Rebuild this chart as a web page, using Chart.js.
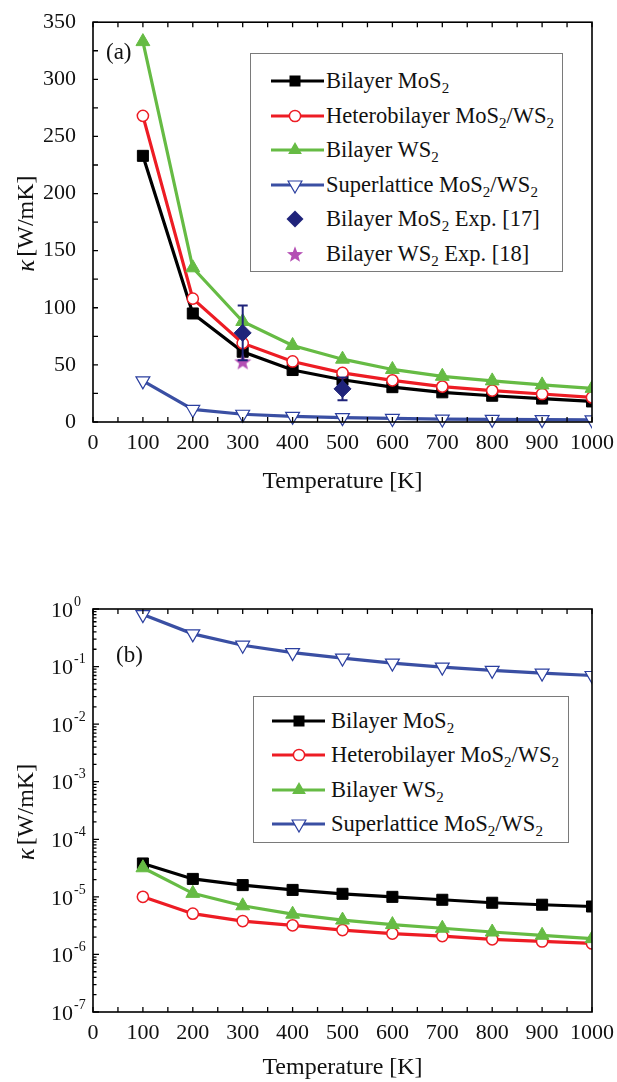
<!DOCTYPE html>
<html><head><meta charset="utf-8">
<script src="https://cdn.jsdelivr.net/npm/chart.js@4.4.0/dist/chart.umd.min.js"></script>
<style>
html,body{margin:0;padding:0;background:#fff;}
#wrap{position:relative;width:617px;height:1082px;overflow:hidden;font-family:"Liberation Serif","Times New Roman",serif;color:#111;}
canvas{position:absolute;left:0;}
.legend{position:absolute;border:1px solid #7a7a7a;background:#fff;box-sizing:border-box;z-index:2;}
.row{position:absolute;left:0;height:30px;width:100%;}
.row svg{position:absolute;top:0;}
.row span{position:absolute;top:0;line-height:30px;font-size:22.5px;white-space:nowrap;}
sub{font-size:15px;vertical-align:-5px;line-height:0;}
.panel{position:absolute;font-size:23px;line-height:26px;z-index:2;}
</style></head>
<body><div id="wrap">
<canvas id="cA" width="617" height="541" style="top:0"></canvas>
<canvas id="cB" width="617" height="540" style="top:542px"></canvas>
<div class="panel" style="left:106px;top:39px">(a)</div>
<div class="panel" style="left:116px;top:642px">(b)</div>
<div class="legend" id="legA" style="left:250px;top:53px;width:313px;height:219px"></div>
<div class="legend" id="legB" style="left:253px;top:696px;width:316px;height:147px"></div>
</div>
<script>
// ---------- data ----------
const temps = [100, 200, 300, 400, 500, 600, 700, 800, 900, 1000];
// panel (a), linear kappa [W/mK]
const mos2A   = [233, 95, 61.5, 45.5, 37, 30.5, 26, 23, 20.5, 18];
const heteroA = [268, 108, 69, 53, 43, 36.5, 31, 27.5, 24.5, 21.5];
const ws2A    = [333, 135, 88, 67, 55, 46, 40, 36, 32.5, 29.5];
const superA  = [36, 11, 6.8, 5, 3.8, 3.1, 2.6, 2.3, 2.1, 1.9];
const expMoS2T = [300, 500];
const expMoS2K = [78, 29];
const expMoS2Err = [24, 10];
const expWS2T = [300];
const expWS2K = [53];
// panel (b), log kappa
const mos2B   = [3.8e-5, 2.05e-5, 1.6e-5, 1.32e-5, 1.13e-5, 1.0e-5, 8.9e-6, 7.9e-6, 7.3e-6, 6.8e-6];
const heteroB = [1.0e-5, 5.1e-6, 3.8e-6, 3.2e-6, 2.65e-6, 2.3e-6, 2.08e-6, 1.83e-6, 1.68e-6, 1.55e-6];
const ws2B    = [3.2e-5, 1.15e-5, 7.0e-6, 5.0e-6, 3.95e-6, 3.3e-6, 2.85e-6, 2.45e-6, 2.15e-6, 1.88e-6];
const superB  = [0.80, 0.37, 0.235, 0.175, 0.14, 0.115, 0.098, 0.086, 0.077, 0.070];
// ticks
const xTickValues = [0, 100, 200, 300, 400, 500, 600, 700, 800, 900, 1000];
const yTickValuesA = [0, 50, 100, 150, 200, 250, 300, 350];
const logTickExps = [0, -1, -2, -3, -4, -5, -6, -7];
// names
const namesA = ['Bilayer MoS<sub>2</sub>', 'Heterobilayer MoS<sub>2</sub>/WS<sub>2</sub>', 'Bilayer WS<sub>2</sub>',
  'Superlattice MoS<sub>2</sub>/WS<sub>2</sub>', 'Bilayer MoS<sub>2</sub> Exp. [17]', 'Bilayer WS<sub>2</sub> Exp. [18]'];
const namesB = namesA.slice(0, 4);
const xTitle = 'Temperature [K]';

// ---------- styles ----------
const F = '"Liberation Serif", "Times New Roman", serif';
const C = {black:'#000000', red:'#ed1c24', green:'#66bb44', blue:'#3a4fa3', blueM:'#2b3f9f', navy:'#1f237a', mag:'#b44fb4'};

function pts(xs, ys){ return xs.map((x,i)=>({x:x, y:ys[i]})); }
function makeStar(size, color){
  const c = document.createElement('canvas'); c.width=size; c.height=size;
  const g = c.getContext('2d'); g.fillStyle=color; g.beginPath();
  const cx=size/2, cy=size/2+0.8, R=size/2, r=R*0.42;
  for(let i=0;i<10;i++){ const a=-Math.PI/2+i*Math.PI/5, rr=i%2?r:R; g.lineTo(cx+rr*Math.cos(a), cy+rr*Math.sin(a)); }
  g.closePath(); g.fill(); return c;
}
const star = makeStar(18, C.mag);

function lineDs(label, data, color, style, extra){
  return Object.assign({label:label, data:data, borderColor:color, borderWidth:3.2, tension:0,
    pointStyle:style, pointBackgroundColor:color, pointBorderColor:color, pointBorderWidth:1,
    pointRadius:7.5, clip:{left:20,top:20,right:0,bottom:20}}, extra||{});
}
function seriesSets(m, h, w, s){
  return [
    lineDs('Bilayer MoS2', pts(temps,m), C.black, 'rect', {order:4, pointRadius:7.8}),
    lineDs('Heterobilayer', pts(temps,h), C.red, 'circle', {order:3, pointRadius:5.6, pointBackgroundColor:'#fff', pointBorderWidth:1.5}),
    lineDs('Bilayer WS2', pts(temps,w), C.green, 'triangle', {order:2, pointRadius:8}),
    lineDs('Superlattice', pts(temps,s), C.blue, 'triangle', {order:5, pointRadius:8, pointRotation:180, pointBackgroundColor:'#fff', pointBorderColor:C.blueM, pointBorderWidth:1.2}),
  ];
}

// ---------- plugins ----------
const framePlugin = {
  id:'frame',
  afterDraw(chart, args, o){
    const {ctx, chartArea:a, scales} = chart;
    ctx.save(); ctx.strokeStyle='#000';
    ctx.lineWidth=1.3; ctx.beginPath();
    for(let v=0; v<=1000; v+=50){ const p=scales.x.getPixelForValue(v);
      ctx.moveTo(p,a.bottom); ctx.lineTo(p,a.bottom-5); ctx.moveTo(p,a.top); ctx.lineTo(p,a.top+5); }
    if(o.log){
      for(let d=-7; d<=0; d++){ const p=scales.y.getPixelForValue(Math.pow(10,d)); ctx.moveTo(a.left,p); ctx.lineTo(a.left+6,p);
        if(d<0) for(let k=2;k<=9;k++){ const q=scales.y.getPixelForValue(k*Math.pow(10,d)); ctx.moveTo(a.left,q); ctx.lineTo(a.left+3.5,q);} }
    } else {
      for(let v=0; v<=350; v+=25){ const p=scales.y.getPixelForValue(v); ctx.moveTo(a.left,p); ctx.lineTo(a.left+5,p); }
    }
    ctx.stroke();
    ctx.lineWidth=1.6; ctx.strokeRect(a.left, a.top, a.right-a.left, a.bottom-a.top);
    // y title: italic kappa + [W/mK]
    const cy=(a.top+a.bottom)/2;
    ctx.translate(o.titleX, cy); ctx.rotate(-Math.PI/2);
    ctx.fillStyle='#111'; ctx.textBaseline='middle';
    const f1='italic 25px '+F, f2='24px '+F, t2=' [W/mK]';
    ctx.font=f1; const w1=ctx.measureText('κ').width; ctx.font=f2; const w2=ctx.measureText(t2).width;
    const x0=-(w1+w2)/2;
    ctx.font=f1; ctx.textAlign='left'; ctx.fillText('κ', x0, 0);
    ctx.font=f2; ctx.fillText(t2, x0+w1-3, 0);
    ctx.restore();
  }
};
const errPlugin = {
  id:'errbars',
  afterDatasetsDraw(chart){
    const {ctx, scales} = chart;
    chart.data.datasets.forEach(ds=>{
      if(!ds.errors) return;
      ctx.save(); ctx.strokeStyle=ds.pointBackgroundColor; ctx.lineWidth=2; ctx.beginPath();
      ds.data.forEach((p,i)=>{
        const x=scales.x.getPixelForValue(p.x), y1=scales.y.getPixelForValue(p.y-ds.errors[i]), y2=scales.y.getPixelForValue(p.y+ds.errors[i]);
        ctx.moveTo(x,y1); ctx.lineTo(x,y2); ctx.moveTo(x-5,y1); ctx.lineTo(x+5,y1); ctx.moveTo(x-5,y2); ctx.lineTo(x+5,y2);
      });
      ctx.stroke(); ctx.restore();
    });
  }
};
const logLabelPlugin = {
  id:'loglabels',
  afterDraw(chart){
    const {ctx, scales} = chart;
    ctx.save(); ctx.fillStyle='#111'; ctx.textBaseline='middle'; ctx.textAlign='left';
    logTickExps.forEach(e=>{
      const p=scales.y.getPixelForValue(Math.pow(10,e));
      ctx.font='22px '+F; ctx.fillText('10', 51, p+2);
      const w=ctx.measureText('10').width;
      ctx.font='14px '+F; ctx.fillText(e===0?'0':'-'+(-e), 51+w+1, p-7);
    });
    ctx.restore();
  }
};

function xScale(h){
  return {type:'linear', min:0, max:1000, grid:{display:false}, border:{display:false},
    afterBuildTicks:s=>{s.ticks=xTickValues.map(v=>({value:v}));},
    ticks:{font:{family:F,size:22}, color:'#111', padding:0, maxRotation:0, autoSkip:false, callback:v=>String(v)},
    title:{display:true, text:xTitle, font:{family:F,size:24}, color:'#111', padding:0},
    afterFit:s=>{s.height=h;}};
}

// ---------- chart (a) ----------
const dsA = seriesSets(mos2A, heteroA, ws2A, superA);
dsA.push({label:'Exp MoS2', data:pts(expMoS2T,expMoS2K), errors:expMoS2Err, showLine:false, order:0,
  pointStyle:'rectRot', pointRadius:8.5, pointBackgroundColor:C.navy, pointBorderColor:C.navy, borderColor:C.navy, clip:false});
dsA.push({label:'Exp WS2', data:pts(expWS2T,expWS2K), showLine:false, order:1,
  pointStyle:star, pointRadius:8, pointBackgroundColor:C.mag, borderColor:C.mag, clip:false});

const chartA = new Chart(document.getElementById('cA'), {
  type:'line',
  data:{datasets:dsA},
  options:{responsive:false, animation:false, devicePixelRatio:1,
    layout:{padding:{left:0, right:25, top:22, bottom:45}},
    plugins:{legend:{display:false}, tooltip:{enabled:false}, frame:{log:false, titleX:27}},
    scales:{
      x:xScale(74),
      y:{type:'linear', min:0, max:350, grid:{display:false}, border:{display:false},
        afterBuildTicks:s=>{s.ticks=yTickValuesA.map(v=>({value:v}));},
        ticks:{font:{family:F,size:22}, color:'#111', padding:9},
        afterFit:s=>{s.width=93;}}
    }},
  plugins:[framePlugin, errPlugin]
});

// ---------- chart (b) ----------
const chartB = new Chart(document.getElementById('cB'), {
  type:'line',
  data:{datasets:seriesSets(mos2B, heteroB, ws2B, superB)},
  options:{responsive:false, animation:false, devicePixelRatio:1,
    layout:{padding:{left:0, right:25, top:67, bottom:0}},
    plugins:{legend:{display:false}, tooltip:{enabled:false}, frame:{log:true, titleX:27}},
    scales:{
      x:xScale(70),
      y:{type:'logarithmic', min:1e-7, max:1, grid:{display:false}, border:{display:false},
        ticks:{display:false}, afterFit:s=>{s.width=93;}}
    }},
  plugins:[framePlugin, logLabelPlugin]
});

// ---------- legends ----------
function markerSvg(kind, cx){
  const y=15;
  switch(kind){
    case 'sq': return `<rect x="${cx-5.5}" y="${y-5.5}" width="11" height="11" fill="${C.black}"/>`;
    case 'ci': return `<circle cx="${cx}" cy="${y}" r="5.6" fill="#fff" stroke="${C.red}" stroke-width="1.5"/>`;
    case 'tu': return `<polygon points="${cx},${y-8} ${cx+6.9},${y+4} ${cx-6.9},${y+4}" fill="${C.green}"/>`;
    case 'td': return `<polygon points="${cx},${y+8} ${cx+6.9},${y-4} ${cx-6.9},${y-4}" fill="#fff" stroke="${C.blueM}" stroke-width="1.2"/>`;
    case 'di': return `<polygon points="${cx},${y-8.5} ${cx+8.5},${y} ${cx},${y+8.5} ${cx-8.5},${y}" fill="${C.navy}"/>`;
    case 'st': { let p=[]; for(let i=0;i<10;i++){const a=-Math.PI/2+i*Math.PI/5, r=i%2?3.6:8.5; p.push((cx+r*Math.cos(a)).toFixed(2)+','+(y+0.8+r*Math.sin(a)).toFixed(2));}
      return `<polygon points="${p.join(' ')}" fill="${C.mag}"/>`; }
  }
}
function buildLegend(id, names, kinds, colors, cfg){
  const el=document.getElementById(id); let html='';
  names.forEach((n,i)=>{
    const top=cfg.first+i*cfg.step-15;
    const line=colors[i]?`<line x1="0" y1="15" x2="${cfg.lineW}" y2="15" stroke="${colors[i]}" stroke-width="3"/>`:'';
    html+=`<div class="row" style="top:${top}px"><svg width="${cfg.lineW}" height="30" style="left:${cfg.lineX}px">${line}${markerSvg(kinds[i], cfg.mx)}</svg><span style="left:${cfg.textX}px">${n}</span></div>`;
  });
  el.innerHTML=html;
}
buildLegend('legA', namesA, ['sq','ci','tu','td','di','st'], [C.black,C.red,C.green,C.blue,null,null],
  {first:27, step:34.5, lineX:20, lineW:53, mx:24, textX:75});
buildLegend('legB', namesB, ['sq','ci','tu','td'], [C.black,C.red,C.green,C.blue],
  {first:24, step:34.3, lineX:18, lineW:53, mx:27, textX:77});
</script>
</body></html>
